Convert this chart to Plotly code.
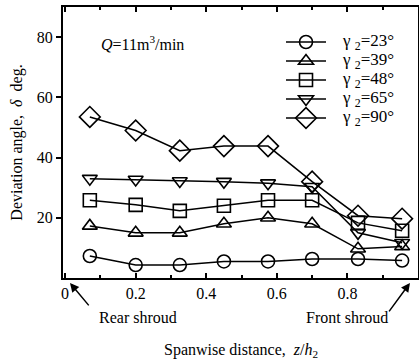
import plotly.graph_objects as go

z = [0.07, 0.2, 0.325, 0.45, 0.575, 0.7, 0.83, 0.955]
d23 = [7.3, 4.3, 4.3, 5.5, 5.5, 6.3, 6.3, 5.8]
d39 = [17.3, 15.0, 15.0, 18.0, 20.0, 18.0, 9.7, 10.5]
d48 = [25.8, 24.3, 22.3, 24.0, 25.8, 25.8, 18.3, 15.7]
d65 = [33.0, 32.7, 32.2, 32.0, 31.5, 30.3, 15.0, 11.7]
d90 = [53.5, 49.0, 42.3, 43.8, 43.8, 32.0, 20.7, 19.7]
labels = ["γ <sub>2</sub>=23°", "γ <sub>2</sub>=39°", "γ <sub>2</sub>=48°",
          "γ <sub>2</sub>=65°", "γ <sub>2</sub>=90°"]
symbols = ["circle-open", "triangle-up-open", "square-open", "triangle-down-open", "diamond-open"]
sizes = [13, 13, 13, 13, 16]
xticks = [0, 0.2, 0.4, 0.6, 0.8, 1.0]
xticklabels = ["0", "0.2", "0.4", "0.6", "0.8", "1"]
yticks = [20, 40, 60, 80]

FONT = "Liberation Serif"
fig = go.Figure()
for ys, nm, sym, sz in zip([d23, d39, d48, d65, d90], labels, symbols, sizes):
    fig.add_trace(go.Scatter(x=z, y=ys, name=" ", mode="lines+markers",
                             line=dict(color="black", width=1.5),
                             marker=dict(symbol=sym, size=sz, color="black",
                                         line=dict(width=1.6, color="black"))))

PW = 355.0
PH = 271.0
row_px = [42, 61, 80, 99, 118]
legend_texts = [dict(x=(340 - 63) / PW, y=(278 - r) / PH, xref="paper", yref="paper",
                     xanchor="left", yanchor="middle", showarrow=False,
                     text=t, font=dict(size=17, family=FONT))
                for r, t in zip(row_px, labels)]

fig.update_layout(
    width=419, height=363, margin=dict(l=63, r=1, t=7, b=85),
    paper_bgcolor="white", plot_bgcolor="white",
    font=dict(family=FONT, size=16, color="black"),
    showlegend=True,
    legend=dict(x=(281 - 63) / PW, y=0.9244, xanchor="left", yanchor="top",
                bgcolor="rgba(0,0,0,0)", font=dict(size=11, family=FONT),
                itemwidth=40, tracegroupgap=0),
    xaxis=dict(range=[-0.006, 1.0], tickvals=xticks, ticktext=xticklabels,
               automargin=False,
               showline=True, linecolor="black", linewidth=2, mirror="ticks",
               ticks="inside", ticklen=5, tickcolor="black", tickwidth=1.5,
               minor=dict(tickvals=[0.1, 0.3, 0.5, 0.7, 0.9], ticks="inside", ticklen=3, tickcolor="black"),
               showgrid=False, zeroline=False,
               tickfont=dict(size=16, family=FONT)),
    yaxis=dict(range=[0, 90], tickvals=yticks, automargin=False,
               showline=True, linecolor="black", linewidth=2, mirror="ticks",
               ticks="outside", ticklen=5, tickcolor="black", tickwidth=1.5,
               showgrid=False, zeroline=False,
               tickfont=dict(size=16, family=FONT),
               title=dict(text="Deviation angle,  <i>δ</i>  deg.", font=dict(size=16, family=FONT), standoff=10)),
    annotations=[
        dict(x=(142 - 63) / PW, y=0.867, xref="paper", yref="paper", showarrow=False,
             xanchor="center", yanchor="middle",
             text="<i>Q</i>=11m<sup>3</sup>/min", font=dict(size=16, family=FONT)),
        dict(x=(70 - 63) / PW, y=-0.018, xref="paper", yref="paper", showarrow=True,
             ax=20, ay=24, arrowhead=2, arrowsize=1.2, arrowwidth=1.5, arrowcolor="black", text=""),
        dict(x=(97 - 63) / PW, y=-0.144, xref="paper", yref="paper", showarrow=False,
             xanchor="left", yanchor="middle",
             text="Rear shroud", font=dict(size=16, family=FONT)),
        dict(x=(410 - 63) / PW, y=-0.018, xref="paper", yref="paper", showarrow=True,
             ax=-22, ay=30, arrowhead=2, arrowsize=1.2, arrowwidth=1.5, arrowcolor="black", text=""),
        dict(x=(390 - 63) / PW, y=-0.144, xref="paper", yref="paper", showarrow=False,
             xanchor="right", yanchor="middle",
             text="Front shroud", font=dict(size=16, family=FONT)),
        dict(x=(241 - 63) / PW, y=-0.266, xref="paper", yref="paper", showarrow=False,
             xanchor="center", yanchor="middle",
             text="Spanwise distance,  <i>z</i>/<i>h</i><sub>2</sub>", font=dict(size=16, family=FONT)),
    ] + legend_texts,
)
fig.write_html("out.html")
